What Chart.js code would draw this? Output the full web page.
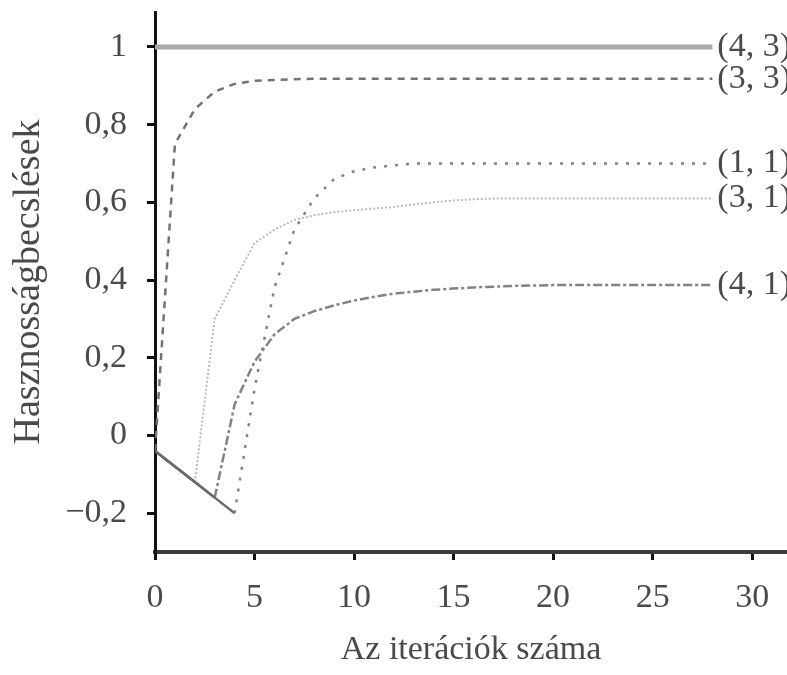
<!DOCTYPE html>
<html>
<head>
<meta charset="utf-8">
<script src="https://cdn.jsdelivr.net/npm/chart.js@4"></script>
<style>
  html, body { margin: 0; padding: 0; background: #fff; }
  #wrap { width: 787px; height: 675px; }
</style>
</head>
<body>
<div id="wrap"><canvas id="chart" width="787" height="675"></canvas></div>
<script>
/* ===== data ===== */
const iterations = [0, 1, 2, 3, 4, 5, 6, 7, 8, 9, 10, 11, 12, 13, 14, 15, 16, 17, 18, 19, 20, 21, 22, 23, 24, 25, 26, 27, 28];

const s43 = [1, 1, 1, 1, 1, 1, 1, 1, 1, 1, 1, 1, 1, 1, 1, 1, 1, 1, 1, 1, 1, 1, 1, 1, 1, 1, 1, 1, 1];
const s33 = [-0.04, 0.75, 0.84, 0.885, 0.905, 0.913, 0.915, 0.917, 0.918, 0.918, 0.918, 0.918, 0.918, 0.918, 0.918,
             0.918, 0.918, 0.918, 0.918, 0.918, 0.918, 0.918, 0.918, 0.918, 0.918, 0.918, 0.918, 0.918, 0.918];
const s11 = [-0.04, -0.08, -0.12, -0.16, -0.20, 0.12, 0.38, 0.53, 0.61, 0.66, 0.68, 0.69, 0.695, 0.70, 0.70,
             0.70, 0.70, 0.70, 0.70, 0.70, 0.70, 0.70, 0.70, 0.70, 0.70, 0.70, 0.70, 0.70, 0.70];
const s31 = [-0.04, -0.08, -0.12, 0.30, 0.40, 0.495, 0.53, 0.555, 0.567, 0.575, 0.58, 0.584, 0.588, 0.595, 0.60,
             0.605, 0.608, 0.61, 0.61, 0.61, 0.61, 0.61, 0.61, 0.61, 0.61, 0.61, 0.61, 0.61, 0.61];
const s41 = [-0.04, -0.08, -0.12, -0.16, 0.08, 0.19, 0.26, 0.30, 0.32, 0.335, 0.347, 0.357, 0.365, 0.37, 0.375,
             0.378, 0.381, 0.383, 0.385, 0.386, 0.387, 0.387, 0.387, 0.387, 0.387, 0.387, 0.387, 0.387, 0.387];

const seriesLabels = ["(4, 3)", "(3, 3)", "(1, 1)", "(3, 1)", "(4, 1)"];
const xTicks = [0, 5, 10, 15, 20, 25, 30];
const yTicks = [-0.2, 0, 0.2, 0.4, 0.6, 0.8, 1];

const serif = "'Liberation Serif', 'DejaVu Serif', serif";
const textColor = "#4a4a4a";

function points(values) {
    return iterations.map((x, i) => ({ x: x, y: values[i] }));
}

// the first falling part below zero is drawn solid and darker
function lineSet(label, values, color, width, dash) {
    return {
        label: label,
        data: points(values),
        borderColor: color,
        borderWidth: width,
        borderDash: dash,
        pointRadius: 0,
        tension: 0,
        segment: {
            borderDash: ctx => (ctx.p1.parsed.y < ctx.p0.parsed.y && ctx.p0.parsed.y < 0) ? [] : dash,
            borderColor: ctx => (ctx.p1.parsed.y < ctx.p0.parsed.y && ctx.p0.parsed.y < 0) ? "#6a6a6a" : color
        }
    };
}

/* ===== end labels at the right ===== */
const endLabels = {
    id: "endLabels",
    afterDatasetsDraw(chart) {
        const ctx = chart.ctx;
        const xs = chart.scales.x;
        const ys = chart.scales.y;
        ctx.save();
        ctx.font = "34px " + serif;
        ctx.fillStyle = textColor;
        ctx.textAlign = "left";
        ctx.textBaseline = "middle";
        chart.data.datasets.forEach(ds => {
            const last = ds.data[ds.data.length - 1];
            ctx.fillText(ds.label, xs.getPixelForValue(last.x) + 5, ys.getPixelForValue(last.y));
        });
        ctx.restore();
    }
};

new Chart(document.getElementById("chart"), {
    type: "line",
    data: {
        datasets: [
            lineSet(seriesLabels[0], s43, "#a8a8a8", 5, []),
            lineSet(seriesLabels[1], s33, "#737373", 2.5, [7, 6]),
            lineSet(seriesLabels[2], s11, "#838383", 2.5, [3, 8]),
            lineSet(seriesLabels[3], s31, "#bababa", 2, [2, 2]),
            lineSet(seriesLabels[4], s41, "#828282", 2.5, [9, 3, 3, 3])
        ]
    },
    options: {
        responsive: false,
        animation: false,
        layout: { padding: { top: 12, right: 0, bottom: 0, left: 0 } },
        plugins: {
            legend: { display: false },
            tooltip: { enabled: false }
        },
        scales: {
            x: {
                type: "linear",
                min: 0,
                max: 31.75,
                afterBuildTicks: s => { s.ticks = xTicks.map(v => ({ value: v })); },
                afterFit: s => { s.height = 123; s.paddingLeft = 0; s.paddingRight = 0; },
                grid: { drawOnChartArea: false, drawTicks: true, tickLength: 8, color: "#111", lineWidth: 3 },
                border: { display: true, color: "#3c3c3c", width: 4 },
                ticks: {
                    padding: 18,
                    color: textColor,
                    font: { family: serif, size: 34 },
                    maxRotation: 0,
                    callback: v => String(v)
                },
                title: {
                    display: true,
                    text: "Az iterációk száma",
                    color: textColor,
                    font: { family: serif, size: 34 },
                    padding: { top: 0, bottom: 5 }
                }
            },
            y: {
                type: "linear",
                min: -0.3,
                max: 1.09,
                afterBuildTicks: s => { s.ticks = yTicks.map(v => ({ value: v })); },
                afterFit: s => { s.width = 155; s.paddingTop = 0; s.paddingBottom = 0; },
                grid: { drawOnChartArea: false, drawTicks: true, tickLength: 8, color: "#111", lineWidth: 3 },
                border: { display: true, color: "#111", width: 3 },
                ticks: {
                    padding: 20,
                    color: textColor,
                    font: { family: serif, size: 34 },
                    callback: v => {
                        if (Math.abs(v) < 1e-9) return "0";
                        return (v < 0 ? "\u2212" : "") + String(Math.abs(Math.round(v * 10) / 10)).replace(".", ",");
                    }
                },
                title: {
                    display: true,
                    text: "Hasznosságbecslések",
                    color: textColor,
                    font: { family: serif, size: 38 },
                    padding: { top: 6, bottom: 0 }
                }
            }
        }
    },
    plugins: [endLabels]
});
</script>
</body>
</html>
